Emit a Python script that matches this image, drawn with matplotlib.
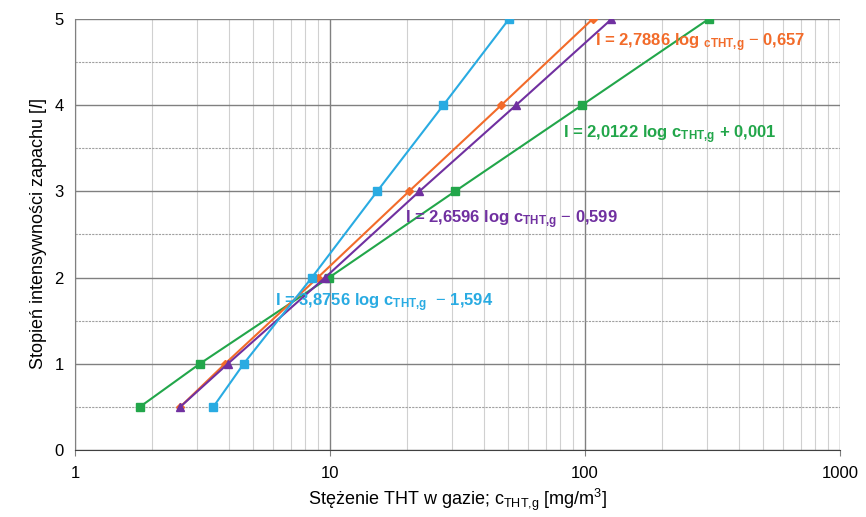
import matplotlib.pyplot as plt
from matplotlib.ticker import FixedLocator, NullFormatter

plt.rcParams['font.family'] = ['Liberation Sans Narrow', 'Liberation Sans', 'DejaVu Sans']
plt.rcParams['mathtext.fontset'] = 'custom'
plt.rcParams['mathtext.rm'] = 'Liberation Sans'
plt.rcParams['mathtext.bf'] = 'Liberation Sans:bold'
plt.rcParams['mathtext.it'] = 'Liberation Sans:italic'

levels = [0.5, 1, 2, 3, 4, 5]
c_blue = [3.49, 4.59, 8.49, 15.3, 27.8, 50.3]
c_orange = [2.59, 3.88, 8.96, 20.4, 46.9, 107]
c_purple = [2.59, 3.98, 9.57, 22.4, 53.6, 127]
c_green = [1.80, 3.09, 9.92, 30.9, 97.2, 305]

col_blue = '#29abe2'
col_orange = '#f26b2a'
col_purple = '#7030a0'
col_green = '#22a64a'

fig = plt.figure(figsize=(8.66, 5.17), dpi=100)
ax = fig.add_axes([0.0866, 0.130, 0.8834, 0.833])

ax.plot(c_green, levels, color=col_green, marker='s', markersize=6, lw=1.5, zorder=3)
ax.plot(c_blue, levels, color=col_blue, marker='s', markersize=6, lw=1.5, zorder=4)
ax.plot(c_orange, levels, color=col_orange, marker='D', markersize=4.5, lw=1.5, zorder=3)
ax.plot(c_purple, levels, color=col_purple, marker='^', markersize=6, lw=1.5, zorder=3)

ax.set_xscale('log')
ax.set_xlim(1, 1000)
ax.set_ylim(0, 5)
ax.set_xticks([1, 10, 100, 1000])
ax.set_xticklabels(['1', '10', '100', '1000'])
ax.xaxis.set_minor_locator(FixedLocator([m * d for d in [1, 10, 100] for m in range(2, 10)]))
ax.xaxis.set_minor_formatter(NullFormatter())
ax.set_yticks([0, 1, 2, 3, 4, 5])
ax.yaxis.set_minor_locator(FixedLocator([0.5, 1.5, 2.5, 3.5, 4.5]))

ax.grid(which='major', axis='x', color='#808080', lw=1.0)
ax.grid(which='minor', axis='x', color='#d0d0d0', lw=0.8)
ax.grid(which='major', axis='y', color='#808080', lw=1.0)
ax.grid(which='minor', axis='y', color='#a0a0a0', lw=0.8, ls=(0, (2, 1)))
ax.set_axisbelow(True)
ax.tick_params(which='both', length=0, labelsize=12, pad=8)
ax.tick_params(axis='x', which='major', length=4, color='#808080')
for s in ['top', 'right']:
    ax.spines[s].set_visible(False)
ax.spines['left'].set_color('#808080')
ax.spines['bottom'].set_color('#404040')

ax.set_xlabel(r'Stężenie THT w gazie; c$_{\mathregular{THT{,}g}}$ [mg/m$^{\mathregular{3}}$]', fontsize=13)
ax.set_ylabel(r'Stopień intensywności zapachu [$I$]', fontsize=13)

kw = dict(fontsize=12, fontweight='bold', ha='left', va='center', family=['Liberation Sans', 'DejaVu Sans'])
ax.text(109, 4.73, r'I = 2,7886 log $_{\mathbf{cTHT{,}g}}$ $-$ 0,657', color=col_orange, **kw)
ax.text(82, 3.66, r'I = 2,0122 log c$_{\mathbf{THT{,}g}}$ + 0,001', color=col_green, **kw)
ax.text(19.7, 2.67, r'I = 2,6596 log c$_{\mathbf{THT{,}g}}$ $-$ 0,599', color=col_purple, **kw)
ax.text(6.07, 1.71, r'I = 3,8756 log c$_{\mathbf{THT{,}g}}$  $-$ 1,594', color=col_blue, **kw)

fig.savefig('out.png', dpi=100)
